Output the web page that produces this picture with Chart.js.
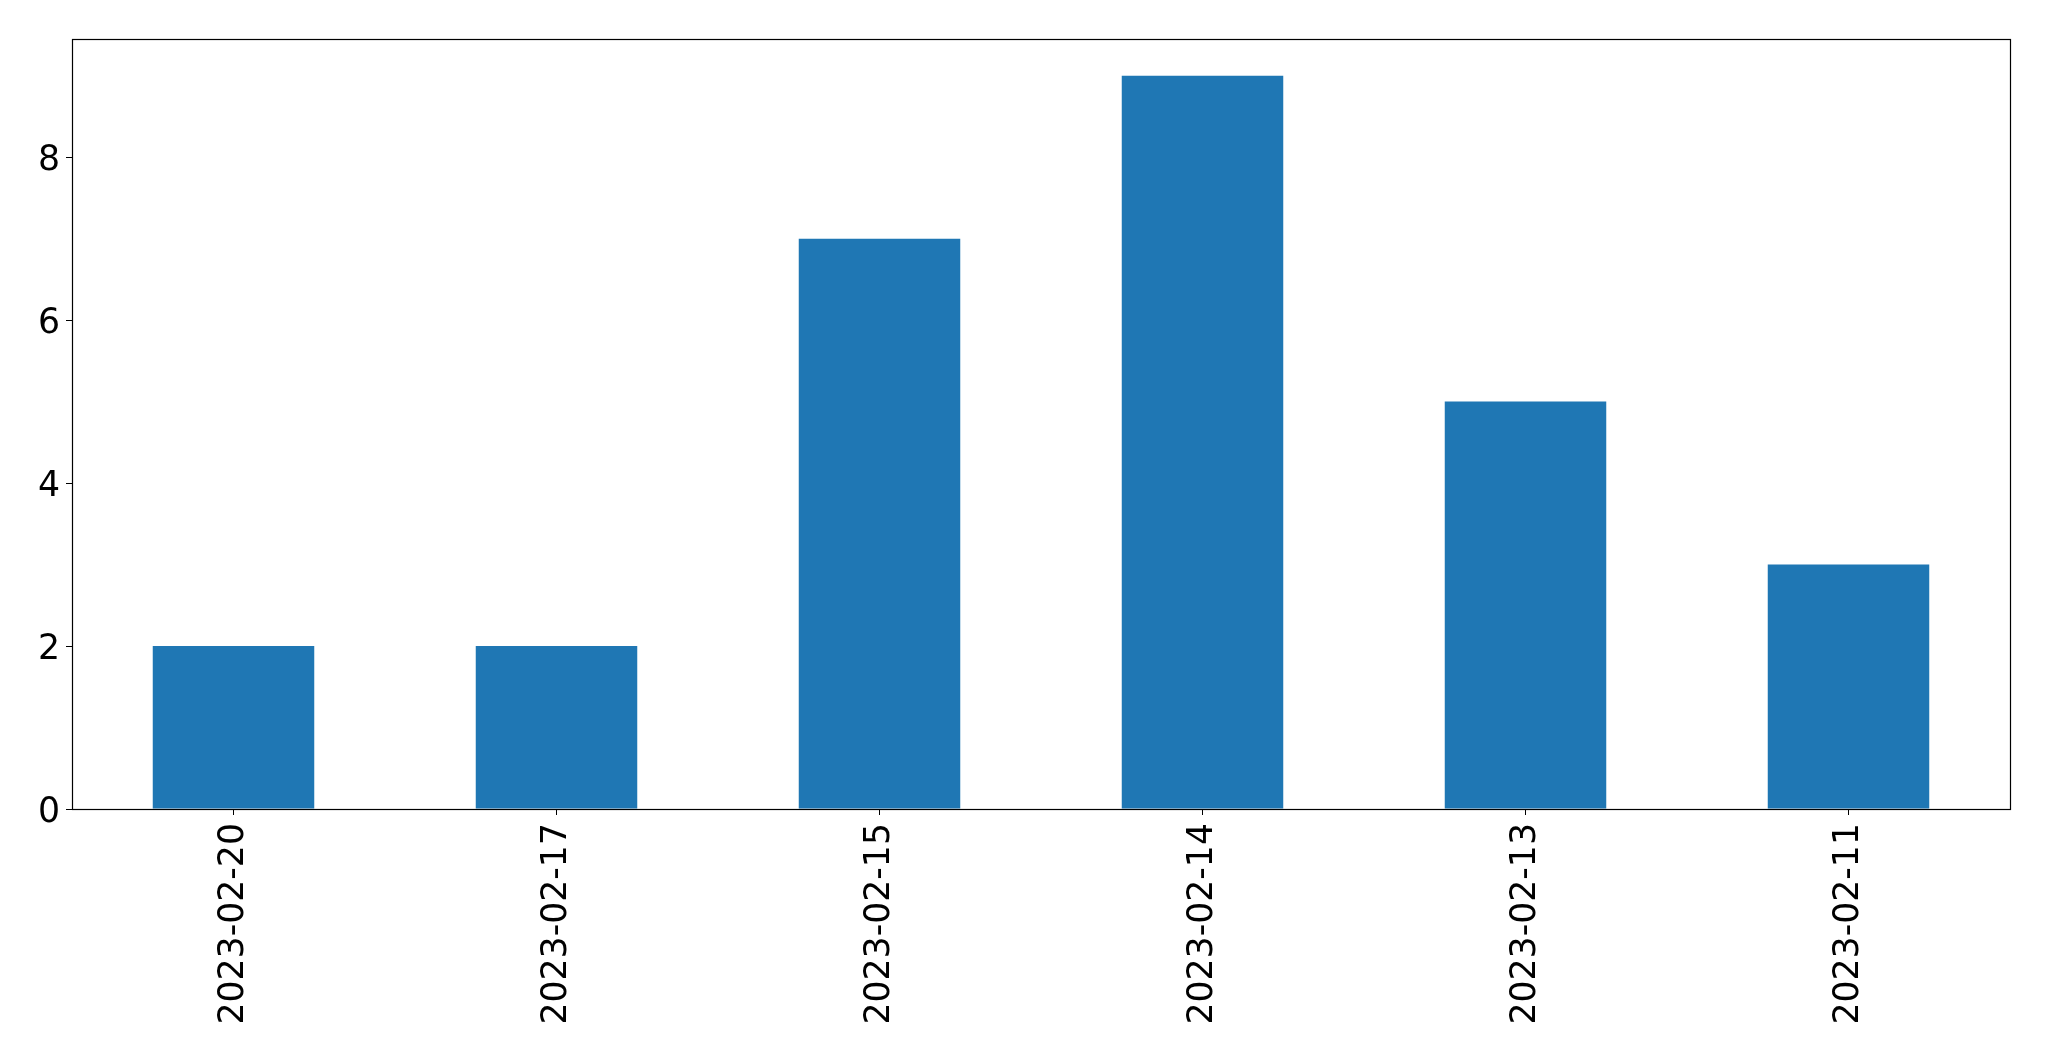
<!DOCTYPE html>
<html>
<head>
<meta charset="utf-8">
<script src="https://cdn.jsdelivr.net/npm/chart.js@4"></script>
<style>
  html, body { margin: 0; padding: 0; background: #fff; }
  #wrap { width: 2049px; height: 1061px; }
</style>
</head>
<body>
<div id="wrap"><canvas id="chart" width="2049" height="1061"></canvas></div>
<script>
const dates = ['2023-02-20', '2023-02-17', '2023-02-15', '2023-02-14', '2023-02-13', '2023-02-11'];
const counts = [2, 2, 7, 9, 5, 3];
const yTicks = [0, 2, 4, 6, 8];

// draws the box round the plot, like matplotlib's spines
const frame = {
    id: 'frame',
    afterDraw(chart) {
        const a = chart.chartArea;
        const ctx = chart.ctx;
        ctx.save();
        ctx.strokeStyle = '#000';
        ctx.lineWidth = 1.2;
        ctx.strokeRect(a.left + 0.5, a.top + 0.5, a.right - a.left, a.bottom - a.top);
        ctx.restore();
    }
};

const tickFont = { family: 'DejaVu Sans', size: 34.7 };

new Chart(document.getElementById('chart'), {
    type: 'bar',
    data: {
        labels: dates,
        datasets: [{
            data: counts,
            backgroundColor: '#1f77b4',
            categoryPercentage: 1.0,
            barPercentage: 0.5
        }]
    },
    options: {
        responsive: false,
        animation: false,
        layout: { padding: { top: 39, right: 39, left: 0, bottom: 0 } },
        plugins: { legend: { display: false }, tooltip: { enabled: false } },
        scales: {
            x: {
                grid: { display: true, drawOnChartArea: false, offset: false, tickLength: 6, color: '#000' },
                border: { display: false },
                ticks: {
                    font: tickFont, color: '#000',
                    maxRotation: 90, minRotation: 90, autoSkip: false, padding: 8
                },
                afterFit(scale) { scale.height = 252; }
            },
            y: {
                min: 0,
                max: 9.45,
                grid: { display: true, drawOnChartArea: false, tickLength: 6, color: '#000' },
                border: { display: false },
                ticks: { font: tickFont, color: '#000', padding: 6, labelOffset: 4 },
                afterBuildTicks(scale) { scale.ticks = yTicks.map(v => ({ value: v })); },
                afterFit(scale) { scale.width = 72; }
            }
        }
    },
    plugins: [frame]
});
</script>
</body>
</html>
